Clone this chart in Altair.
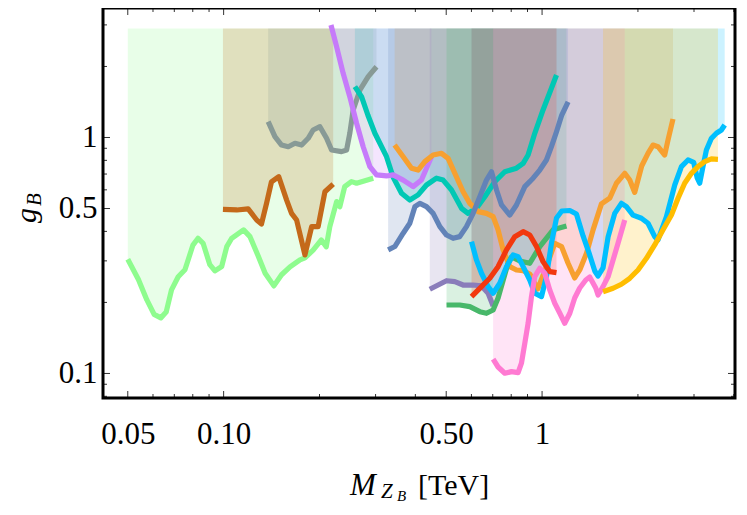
import altair as alt
import pandas as pd

# ---------------- data (x = M_ZB in TeV, y = g_B) ----------------
lightgreen_x = [0.050, 0.054, 0.0574, 0.0605, 0.0635, 0.066, 0.0686, 0.072, 0.0756, 0.0801, 0.0831, 0.0862,
                0.0905, 0.0939, 0.0986, 0.1023, 0.106, 0.1155, 0.121, 0.128, 0.135, 0.1438, 0.152, 0.1616,
                0.1737, 0.18, 0.191, 0.2027, 0.21, 0.2155, 0.2264, 0.2317, 0.24, 0.252, 0.2615, 0.295]
lightgreen_y = [0.305, 0.25, 0.205, 0.178, 0.172, 0.182, 0.226, 0.257, 0.275, 0.35, 0.374, 0.356,
                0.289, 0.272, 0.284, 0.345, 0.374, 0.406, 0.38, 0.318, 0.266, 0.235, 0.262, 0.283,
                0.303, 0.309, 0.333, 0.368, 0.344, 0.419, 0.535, 0.509, 0.619, 0.65, 0.64, 0.672]

brown_x = [0.0995, 0.110, 0.1194, 0.127, 0.1315, 0.1365, 0.1413, 0.149, 0.1577, 0.1634, 0.1695, 0.18,
           0.189, 0.198, 0.208, 0.2208]
brown_y = [0.496, 0.493, 0.498, 0.447, 0.43, 0.528, 0.648, 0.682, 0.543, 0.477, 0.447, 0.318,
           0.419, 0.419, 0.589, 0.635]

gray_x = [0.138, 0.1449, 0.152, 0.1596, 0.1675, 0.1758, 0.1843, 0.191, 0.2006, 0.2105, 0.2183, 0.2346,
          0.2433, 0.249, 0.2552, 0.268, 0.2844, 0.302]
gray_y = [1.167, 1.008, 0.929, 0.914, 0.945, 0.929, 0.992, 1.076, 1.111, 0.992, 0.885, 0.871,
          0.885, 1.042, 1.308, 1.59, 1.81, 1.995]

violet_x = [0.2173, 0.2263, 0.2373, 0.249, 0.2615, 0.2743, 0.2879, 0.302, 0.3248, 0.3405, 0.3663, 0.3937,
            0.418, 0.4494]
violet_y = [2.997, 2.425, 1.871, 1.489, 1.149, 0.914, 0.752, 0.694, 0.687, 0.694, 0.66, 0.619,
            0.66, 0.829]

teal_x = [0.2583, 0.2711, 0.2837, 0.2985, 0.3248, 0.3405, 0.3619, 0.3843, 0.408, 0.4336, 0.466, 0.489,
          0.5196, 0.5585, 0.5857, 0.6222, 0.661, 0.7105, 0.7637, 0.8309, 0.872, 0.9039, 0.9486, 1.007, 1.11]
teal_y = [1.642, 1.489, 1.245, 1.042, 0.829, 0.68, 0.58, 0.543, 0.571, 0.629, 0.672, 0.66,
          0.599, 0.501, 0.477, 0.501, 0.561, 0.65, 0.716, 0.741, 0.777, 0.843, 1.042, 1.308, 1.84]

orange_x = [0.3443, 0.3663, 0.389, 0.408, 0.4283, 0.4548, 0.4832, 0.507, 0.532, 0.565, 0.593, 0.63,
            0.669, 0.702, 0.7275, 0.7545, 0.7918, 0.831, 0.872, 0.915, 0.969, 1.032, 1.096, 1.151,
            1.207, 1.266, 1.313, 1.379, 1.446, 1.536, 1.631, 1.712, 1.818, 1.885, 1.954, 2.055,
            2.151, 2.23, 2.312, 2.427, 2.486, 2.577]
orange_y = [0.929, 0.829, 0.741, 0.728, 0.79, 0.843, 0.857, 0.816, 0.705, 0.589, 0.526, 0.485,
            0.477, 0.462, 0.406, 0.334, 0.2835, 0.2745, 0.2726, 0.264, 0.228, 0.2835, 0.356, 0.345,
            0.293, 0.254, 0.2745, 0.323, 0.406, 0.523, 0.553, 0.64, 0.705, 0.66, 0.585, 0.757,
            0.857, 0.929, 0.914, 0.843, 0.976, 1.198]

slate_x = [0.3286, 0.3448, 0.3663, 0.3843, 0.3986, 0.4132, 0.4336, 0.4548, 0.4776, 0.5011, 0.5256, 0.5514,
           0.5788, 0.6073, 0.6375, 0.669, 0.6937, 0.7194, 0.7459, 0.7918, 0.831, 0.8826, 0.9371, 0.9835,
           1.032, 1.07, 1.11, 1.153, 1.207]
slate_y = [0.334, 0.345, 0.393, 0.433, 0.509, 0.526, 0.509, 0.477, 0.419, 0.386, 0.374, 0.38,
           0.419, 0.477, 0.561, 0.66, 0.716, 0.599, 0.5176, 0.469, 0.5176, 0.619, 0.672, 0.728,
           0.803, 0.914, 1.058, 1.245, 1.414]

mauve_x = [0.444, 0.4716, 0.5011, 0.532, 0.565, 0.6073, 0.6453, 0.677, 0.702]
mauve_y = [0.2274, 0.237, 0.2472, 0.2449, 0.237, 0.237, 0.2349, 0.2187, 0.1932]

green_x = [0.5011, 0.5514, 0.593, 0.6375, 0.669, 0.702, 0.7275, 0.7527, 0.78, 0.8017, 0.8511, 0.915,
           0.9835, 1.083, 1.193]
green_y = [0.195, 0.195, 0.1919, 0.1827, 0.1799, 0.1858, 0.2089, 0.245, 0.29, 0.3115, 0.2997, 0.293,
           0.345, 0.406, 0.4217]

red_x = [0.6004, 0.6453, 0.6851, 0.7275, 0.7731, 0.8209, 0.872, 0.915, 0.9603, 1.007, 1.057, 1.11]
red_y = [0.2116, 0.2333, 0.2531, 0.2835, 0.334, 0.38, 0.399, 0.386, 0.345, 0.2977, 0.27, 0.2674]

cyan_x = [0.6004, 0.6222, 0.6453, 0.677, 0.702, 0.7365, 0.7731, 0.811, 0.8409, 0.872, 0.915, 0.9486,
          0.9957, 1.032, 1.07, 1.11, 1.153, 1.222, 1.282, 1.345, 1.411, 1.464, 1.499, 1.554, 1.612,
          1.691, 1.775, 1.84, 1.93, 2.051, 2.151, 2.258, 2.312, 2.458, 2.61, 2.739, 2.873, 2.993,
          3.07, 3.126, 3.2, 3.281, 3.402, 3.527, 3.657, 3.745]
cyan_y = [0.362, 0.3027, 0.2659, 0.2333, 0.2187, 0.2411, 0.2835, 0.3178, 0.3126, 0.2835, 0.249, 0.2187,
          0.2116, 0.2571, 0.356, 0.456, 0.488, 0.4905, 0.474, 0.3825, 0.3178, 0.2718, 0.2589, 0.28, 0.379,
          0.477, 0.526, 0.509, 0.469, 0.4545, 0.433, 0.38, 0.368, 0.462, 0.629, 0.752, 0.803, 0.784,
          0.674, 0.64, 0.752, 0.885, 0.992, 1.042, 1.076, 1.13]

pink_x = [0.702, 0.7275, 0.7637, 0.8017, 0.8409, 0.8615, 0.8826, 0.9039, 0.9262, 0.9486, 0.9835, 1.02,
          1.057, 1.096, 1.137, 1.178, 1.222, 1.266, 1.313, 1.372, 1.411, 1.474, 1.499, 1.554, 1.612,
          1.671, 1.732, 1.818]
pink_y = [0.1149, 0.1065, 0.1002, 0.1018, 0.1008, 0.1105, 0.1343, 0.1632, 0.2116, 0.2571, 0.2792, 0.2659,
          0.2259, 0.1984, 0.1799, 0.1632, 0.1799, 0.2089, 0.2303, 0.249, 0.2564, 0.2303, 0.2151, 0.2333,
          0.2571, 0.3027, 0.356, 0.447]

yellow_x = [1.554, 1.671, 1.775, 1.885, 2.001, 2.127, 2.258, 2.398, 2.548, 2.673, 2.804, 2.944,
            3.087, 3.241, 3.402, 3.567]
yellow_y = [0.2221, 0.2296, 0.2388, 0.2531, 0.2745, 0.3077, 0.3503, 0.406, 0.469, 0.553, 0.64, 0.705,
            0.752, 0.79, 0.811, 0.808]

fill_top = 2.9  # upper edge of the excluded regions

x_tick_labels = [0.05, 0.1, 0.5, 1]
x_minor_ticks = [0.06, 0.07, 0.08, 0.09, 0.2, 0.3, 0.4, 0.6, 0.7, 0.8, 0.9, 2, 3, 4]
y_tick_labels = [0.1, 0.5, 1]
y_minor_ticks = [0.08, 0.09, 0.2, 0.3, 0.4, 0.6, 0.7, 0.8, 0.9, 2, 3]

curves = [
    ("lightgreen", "#8EFC8E", lightgreen_x, lightgreen_y),
    ("brown", "#C4691A", brown_x, brown_y),
    ("gray", "#889A96", gray_x, gray_y),
    ("teal", "#00C8B4", teal_x, teal_y),
    ("violet", "#C67BFA", violet_x, violet_y),
    ("orange", "#F7A030", orange_x, orange_y),
    ("slate", "#6283B8", slate_x, slate_y),
    ("mauve", "#8A7DBA", mauve_x, mauve_y),
    ("green", "#48B86A", green_x, green_y),
    ("cyan", "#00BFFF", cyan_x, cyan_y),
    ("red", "#F2380E", red_x, red_y),
    ("pink", "#FF7AD2", pink_x, pink_y),
    ("yellow", "#FFBD00", yellow_x, yellow_y),
]

# ---------------- chart ----------------
W, H = 632, 390
FONT = "Liberation Serif"
xscale = alt.Scale(type="log", domain=[0.0418, 4.035], nice=False)
yscale = alt.Scale(type="log", domain=[0.0787, 3.538], nice=False)
xaxis = alt.Axis(values=x_tick_labels, ticks=False, domain=False, grid=False,
                 labelExpr="datum.value >= 1 ? '1' : format(datum.value, '.2f')",
                 labelFont=FONT, labelFontSize=31, labelPadding=21, labelColor="black",
                 labelOverlap=False, labelFlush=False, title=None)
yaxis = alt.Axis(values=y_tick_labels, ticks=False, domain=False, grid=False,
                 labelExpr="datum.value >= 1 ? '1' : format(datum.value, '.1f')",
                 labelFont=FONT, labelFontSize=31, labelPadding=6, labelColor="black",
                 labelBaseline="middle", labelOverlap=False, labelFlush=False, title=None)
X = alt.X("x:Q", scale=xscale, axis=xaxis)
Y = alt.Y("y:Q", scale=yscale, axis=yaxis)

areas, lines = [], []
for name, color, xs, ys in curves:
    df = pd.DataFrame({"x": xs, "y": ys, "top": [fill_top] * len(xs)})
    areas.append(alt.Chart(df).mark_area(color=color, opacity=0.2, clip=True, interpolate="linear")
                 .encode(x=X, y=Y, y2="top:Q"))
    lines.append(alt.Chart(df).mark_line(color=color, strokeWidth=5.2, clip=True,
                                         strokeCap="butt", strokeJoin="round")
                 .encode(x=X, y=Y))

# inward frame ticks
def xticks(vals, length):
    d = pd.DataFrame({"x": vals})
    b = alt.Chart(d).mark_rule(color="#333", strokeWidth=1).encode(x=X, y=alt.value(H), y2=alt.value(H - length))
    t = alt.Chart(d).mark_rule(color="#333", strokeWidth=1).encode(x=X, y=alt.value(0), y2=alt.value(length))
    return [b, t]

def yticks(vals, length):
    d = pd.DataFrame({"y": vals})
    l = alt.Chart(d).mark_rule(color="#333", strokeWidth=1).encode(y=Y, x=alt.value(0), x2=alt.value(length))
    r = alt.Chart(d).mark_rule(color="#333", strokeWidth=1).encode(y=Y, x=alt.value(W), x2=alt.value(W - length))
    return [l, r]

ticks = xticks(x_tick_labels, 7) + xticks(x_minor_ticks, 4) + yticks(y_tick_labels, 7) + yticks(y_minor_ticks, 4)

one = alt.Data(values=[{"a": 1}])

frame = alt.Chart(one).mark_rect(fillOpacity=0, stroke="black", strokeOpacity=1, strokeWidth=3).encode(
    x=alt.value(0), x2=alt.value(W), y=alt.value(0), y2=alt.value(H))

def txt(s, x, y, size, italic=False, angle=0):
    kw = dict(text=s, font=FONT, fontSize=size, align="left", baseline="alphabetic", color="black")
    if italic:
        kw["fontStyle"] = "italic"
    if angle:
        kw["angle"] = angle
    return alt.Chart(one).mark_text(**kw).encode(x=alt.value(x), y=alt.value(y))

titles = [
    txt("M", 247, 487, 31, italic=True),
    txt("Z", 278, 490, 21, italic=True),
    txt("B", 294, 493, 15, italic=True),
    txt("[TeV]", 315, 487, 30),
    txt("g", -67, 215, 30, italic=True, angle=270),
    txt("B", -62, 198, 21, italic=True, angle=270),
]

chart = alt.layer(*areas, *lines, *ticks, frame, *titles).properties(
    width=W, height=H,
    autosize=alt.AutoSizeParams(type="none"),
    padding={"left": 95, "top": 0, "right": 4, "bottom": 105},
).configure_view(strokeWidth=0)

chart.save("out.html", embed_options={"renderer": "svg", "actions": False})
